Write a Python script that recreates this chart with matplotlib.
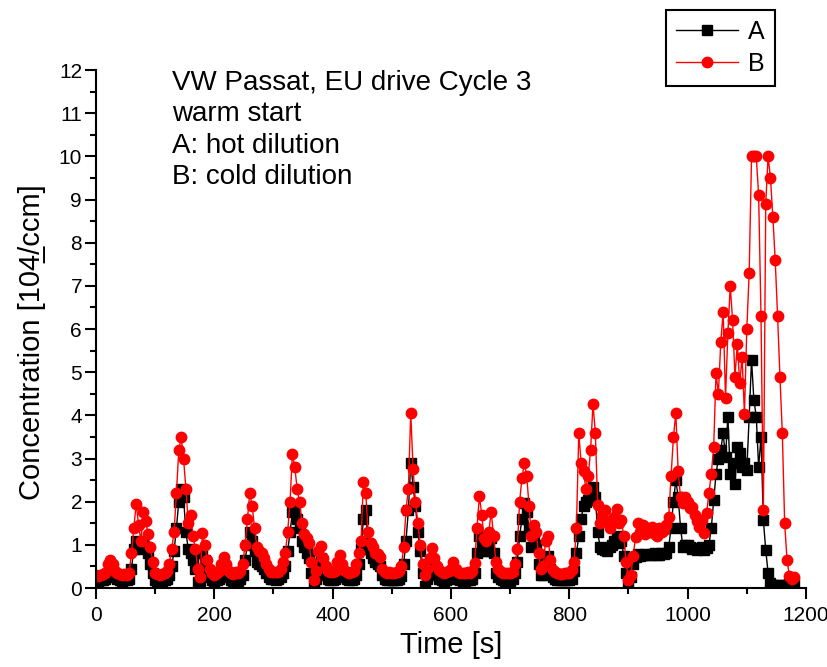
import numpy as np
import matplotlib
matplotlib.use("Agg")
import matplotlib.pyplot as plt
from matplotlib.ticker import MultipleLocator

plt.rcParams['font.family'] = ['Liberation Sans', 'DejaVu Sans']

# sampling grid of the read-off values (every 4 s)
time_s = np.arange(0, 1181, 4)

# A: hot dilution (black squares), one row per 100 s
conc_a = [
    0.15, 0.15, 0.18, 0.18, 0.20, 0.30, 0.40, 0.35, 0.25, 0.20, 0.18, 0.17, 0.18, 0.18, 0.20, 0.45, 0.90, 1.10, 0.95, 0.90, 1.05, 0.95, 0.80, 0.55, 0.35,
    0.18, 0.17, 0.16, 0.17, 0.18, 0.22, 0.30, 0.50, 0.85, 1.40, 2.00, 2.30, 2.10, 1.30, 0.90, 0.80, 0.65, 0.45, 0.15, 0.08, 0.80, 0.65, 0.40, 0.25, 0.18,
    0.15, 0.18, 0.22, 0.30, 0.45, 0.35, 0.25, 0.18, 0.16, 0.18, 0.17, 0.20, 0.30, 0.65, 1.00, 1.30, 1.10, 0.85, 0.60, 0.55, 0.50, 0.45, 0.35, 0.25, 0.20,
    0.20, 0.18, 0.20, 0.25, 0.35, 0.50, 0.85, 1.30, 1.75, 1.80, 1.60, 1.40, 1.10, 0.95, 0.80, 0.70, 0.35, 0.05, 0.20, 0.55, 0.70, 0.50, 0.30, 0.22, 0.18,
    0.18, 0.22, 0.40, 0.50, 0.35, 0.25, 0.20, 0.18, 0.18, 0.20, 0.30, 0.55, 0.90, 1.60, 1.80, 1.05, 0.80, 0.70, 0.60, 0.55, 0.50, 0.30, 0.20, 0.18, 0.18,
    0.18, 0.18, 0.18, 0.20, 0.28, 0.55, 1.10, 1.80, 2.90, 2.35, 1.90, 1.30, 0.85, 0.35, 0.05, 0.20, 0.45, 0.65, 0.50, 0.30, 0.22, 0.18, 0.17, 0.18, 0.20,
    0.25, 0.35, 0.28, 0.20, 0.18, 0.17, 0.17, 0.18, 0.18, 0.22, 0.35, 0.80, 1.20, 1.05, 0.85, 0.85, 0.95, 1.15, 0.80, 0.35, 0.25, 0.20, 0.18, 0.17, 0.17,
    0.17, 0.20, 0.35, 0.60, 1.20, 1.60, 1.96, 1.75, 1.40, 0.95, 1.20, 1.00, 0.55, 0.30, 0.30, 0.65, 0.75, 0.45, 0.25, 0.20, 0.19, 0.19, 0.18, 0.18, 0.18,
    0.18, 0.22, 0.40, 0.80, 1.20, 1.60, 1.90, 2.00, 2.05, 2.20, 2.35, 2.10, 1.30, 0.95, 0.90, 0.88, 0.85, 0.95, 1.00, 1.10, 1.20, 1.05, 1.10, 0.75, 0.35,
    0.10, 0.25, 0.55, 0.72, 0.78, 0.75, 0.77, 0.78, 0.76, 0.77, 0.78, 0.80, 0.76, 0.77, 0.80, 0.78, 0.82, 0.95, 1.40, 2.00, 2.50, 2.10, 1.40, 0.95, 1.00,
    1.00, 0.95, 0.90, 0.92, 0.88, 0.90, 0.95, 0.88, 0.92, 1.00, 1.40, 2.04, 2.65, 3.00, 3.20, 3.58, 3.04, 3.97, 2.65, 2.90, 2.42, 3.27, 3.12, 2.81, 2.90,
    2.73, 3.97, 5.28, 4.35, 3.97, 2.80, 3.50, 1.57, 0.88, 0.35, 0.12, 0.08, 0.06, 0.05, 0.05, 0.06, 0.07, 0.08, 0.10, 0.12, 0.12,
]

# B: cold dilution (red circles)
conc_b = [
    0.30, 0.28, 0.30, 0.32, 0.35, 0.55, 0.65, 0.55, 0.40, 0.35, 0.33, 0.30, 0.32, 0.30, 0.35, 0.80, 1.40, 1.95, 1.45, 1.10, 1.75, 1.55, 1.25, 0.95, 0.60,
    0.35, 0.32, 0.30, 0.32, 0.35, 0.40, 0.55, 0.90, 1.30, 2.20, 3.20, 3.50, 3.00, 2.30, 1.50, 1.70, 1.20, 0.90, 0.45, 0.25, 1.27, 1.00, 0.65, 0.45, 0.35,
    0.30, 0.35, 0.40, 0.55, 0.72, 0.55, 0.40, 0.35, 0.33, 0.38, 0.35, 0.40, 0.55, 1.00, 1.60, 2.20, 1.90, 1.40, 0.95, 0.85, 0.80, 0.70, 0.55, 0.45, 0.38,
    0.38, 0.36, 0.38, 0.45, 0.60, 0.80, 1.30, 2.00, 3.10, 2.80, 2.30, 2.00, 1.50, 1.25, 1.15, 1.05, 0.60, 0.18, 0.40, 0.85, 0.98, 0.70, 0.50, 0.40, 0.36,
    0.36, 0.40, 0.60, 0.76, 0.55, 0.42, 0.38, 0.35, 0.36, 0.40, 0.55, 0.80, 1.10, 2.46, 2.20, 1.30, 1.05, 0.95, 0.82, 0.78, 0.72, 0.45, 0.36, 0.35, 0.36,
    0.35, 0.35, 0.36, 0.40, 0.50, 0.95, 1.80, 2.30, 4.06, 2.75, 2.00, 1.50, 1.00, 0.55, 0.30, 0.45, 0.70, 0.92, 0.70, 0.50, 0.42, 0.36, 0.35, 0.36, 0.40,
    0.45, 0.60, 0.45, 0.36, 0.35, 0.34, 0.35, 0.36, 0.35, 0.40, 0.58, 1.40, 2.13, 1.70, 1.15, 1.10, 1.30, 1.77, 1.20, 0.60, 0.45, 0.38, 0.35, 0.34, 0.35,
    0.35, 0.38, 0.55, 0.90, 2.00, 2.55, 2.89, 2.60, 1.90, 1.20, 1.46, 1.30, 0.80, 0.45, 0.50, 1.10, 1.20, 0.65, 0.42, 0.36, 0.34, 0.33, 0.33, 0.34, 0.34,
    0.34, 0.42, 0.60, 1.38, 3.58, 2.90, 2.70, 2.30, 2.60, 3.20, 4.26, 3.60, 1.92, 1.50, 1.70, 1.80, 1.55, 1.40, 1.50, 1.65, 1.84, 1.50, 1.57, 1.20, 0.60,
    0.19, 0.30, 0.75, 1.19, 1.50, 1.30, 1.45, 1.25, 1.40, 1.30, 1.42, 1.25, 1.20, 1.40, 1.30, 1.34, 1.45, 1.65, 2.60, 3.50, 4.05, 2.70, 2.10, 1.96, 2.10,
    2.00, 1.85, 1.88, 1.70, 1.55, 1.42, 1.57, 1.27, 1.73, 2.20, 2.65, 3.27, 4.97, 4.50, 5.70, 6.40, 4.40, 5.90, 7.00, 6.20, 4.89, 5.66, 4.74, 5.35, 4.04,
    6.00, 7.30, 10.0, 10.0, 10.0, 9.10, 6.30, 1.80, 8.90, 10.0, 9.50, 8.60, 7.60, 6.30, 4.90, 3.60, 1.50, 0.65, 0.28, 0.22, 0.25,
]

x_major = 200
y_major = 1
x_limits = (0, 1200)
y_limits = (0, 12)
note_lines = ["VW Passat, EU drive Cycle 3", "warm start", "A: hot dilution", "B: cold dilution"]

fig = plt.figure(figsize=(8.28, 6.67), dpi=100)
ax = fig.add_axes([0.1159, 0.1184, 0.8575, 0.7766])

ax.plot(time_s, conc_a, color='black', lw=1.0, marker='s', ms=6.5, label='A')
ax.plot(time_s, conc_b, color='#ff0000', lw=1.0, marker='o', ms=7.5, label='B')

ax.set_xlim(*x_limits)
ax.set_ylim(*y_limits)
ax.xaxis.set_major_locator(MultipleLocator(x_major))
ax.xaxis.set_minor_locator(MultipleLocator(x_major / 2))
ax.yaxis.set_major_locator(MultipleLocator(y_major))
ax.yaxis.set_minor_locator(MultipleLocator(y_major / 2))

for side in ['top', 'right']:
    ax.spines[side].set_visible(False)
for side in ['left', 'bottom']:
    ax.spines[side].set_linewidth(1.5)
ax.tick_params(which='major', direction='out', length=8, width=1.5, labelsize=15)
ax.tick_params(which='minor', direction='out', length=4, width=1.5)
ax.tick_params(axis='y', which='major', pad=2)
ax.tick_params(axis='x', which='major', pad=5)

ax.set_xlabel('Time [s]', fontsize=21, labelpad=4)
ax.set_ylabel('Concentration [104\u0332/ccm]', fontsize=21)
ax.yaxis.set_label_coords(-0.07, 0.475)

ax.text(0.107, 1.0, "\n".join(note_lines), transform=ax.transAxes,
        ha='left', va='top', fontsize=20, linespacing=1.27)

leg = fig.legend(loc='upper left', bbox_to_anchor=(0.804, 0.985), fontsize=18,
                 numpoints=1, handlelength=2.5, handletextpad=0.4,
                 labelspacing=0.3, borderpad=0.4, borderaxespad=0,
                 fancybox=False, framealpha=1)
leg.get_frame().set_edgecolor('black')
leg.get_frame().set_linewidth(1.5)

fig.savefig('out.png', dpi=100)
